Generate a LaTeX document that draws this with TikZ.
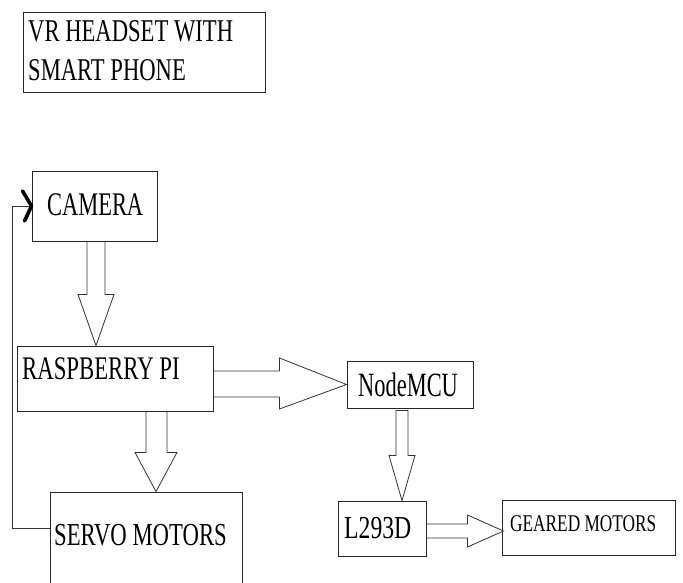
\documentclass[tikz,border=0pt]{standalone}
\usepackage{fontspec}
\usepackage{graphicx}
\setmainfont{Liberation Serif}
\usetikzlibrary{calc,arrows.meta}
\tikzset{
  box/.style={draw=black!85, line width=0.9pt, rectangle, inner sep=0pt},
  txt/.style={anchor=base west, inner sep=0pt, text=black},
  blk/.style={draw=black!80, line width=0.8pt, line join=miter},
  fb/.style={draw=black!80, line width=0.8pt},
  chev/.style={draw=black, line width=3.6pt, line cap=round, line join=round}
}
\newcommand{\tx}[3]{{\fontsize{#1}{#1}\selectfont\scalebox{#2}[1]{#3}}}
\begin{document}
\begin{tikzpicture}[x=1pt,y=-1pt]
\clip (0,0) rectangle (683,583);
\fill[white] (0,0) rectangle (683,583);
% boxes
\node[box, minimum width=242pt, minimum height=80pt] (vr) at (144,52) {};
\node[box, minimum width=125pt, minimum height=70pt] (cam) at (94.5,206) {};
\node[box, minimum width=196pt, minimum height=65pt] (rpi) at (115,378.5) {};
\node[box, minimum width=126pt, minimum height=47pt] (mcu) at (410,384.5) {};
\node[box, minimum width=88pt, minimum height=55pt] (l293) at (382,528.5) {};
\node[box, minimum width=173pt, minimum height=55pt] (geared) at (588.5,527.5) {};
\node[box, minimum width=192pt, minimum height=108pt] (servo) at (146,546) {};
% texts
\node[txt] (vrA) at (28,42) {\tx{31.7}{0.714}{VR HEADSET WITH}};
\node[txt] (vrB) at (28,81) {\tx{31.7}{0.714}{SMART PHONE}};
\node[txt] (camT) at (47,215) {\tx{33}{0.68}{CAMERA}};
\node[txt] (rpiT) at (22,379) {\tx{33}{0.69}{RASPBERRY PI}};
\node[txt] (mcuT) at (358,396) {\tx{34}{0.66}{NodeMCU}};
\node[txt] (l293T) at (344,538) {\tx{32}{0.74}{L293D}};
\node[txt] (servoT) at (54,545) {\tx{32}{0.71}{SERVO MOTORS}};
\node[txt] (gearedT) at (510,531) {\tx{24}{0.72}{GEARED MOTORS}};
% block arrows
\draw[blk] ($(cam.south)+(-7.5,0)$) -- ++(0,53) -- ++(-9,0) -- ($(rpi.north)+(-19,0)$)
  -- ($(cam.south)+(19.5,53)$) -- ++(-9,0) -- ++(0,-53);
\draw[blk] ($(rpi.south)+(31,0)$) -- ++(0,41) -- ++(-11,0) -- ($(servo.north)+(10,0)$)
  -- ($(rpi.south)+(62,41)$) -- ++(-10,0) -- ++(0,-41);
\draw[blk] ($(rpi.east)+(0,-7.5)$) -- ++(66,0) -- ++(0,-13) -- (mcu.west)
  -- ($(rpi.east)+(66,30.5)$) -- ++(0,-12) -- ++(-66,0);
\draw[blk] ($(mcu.south)+(-2,2)$) -- ($(mcu.south)+(-14,2)$) -- ($(mcu.south)+(-14,47)$) -- ++(-7,0)
  -- ($(l293.north)+(20,0)$) -- ($(mcu.south)+(5,47)$) -- ++(-7,0) -- cycle;
\draw[blk] ($(l293.east)+(0,-4.5)$) -- ++(41,0) -- ++(0,-9) -- ($(geared.west)+(2,3.5)$)
  -- ($(l293.east)+(41,18.5)$) -- ++(0,-9) -- ++(-41,0);
% feedback
\draw[fb] ($(servo.west)+(0,-18)$) -- ++(-37,0) |- (cam.west);
\draw[chev] ($(cam.west)+(-9,-15)$) -- ($(cam.west)+(0,0)$) -- ($(cam.west)+(-7,15)$);
\end{tikzpicture}
\end{document}
